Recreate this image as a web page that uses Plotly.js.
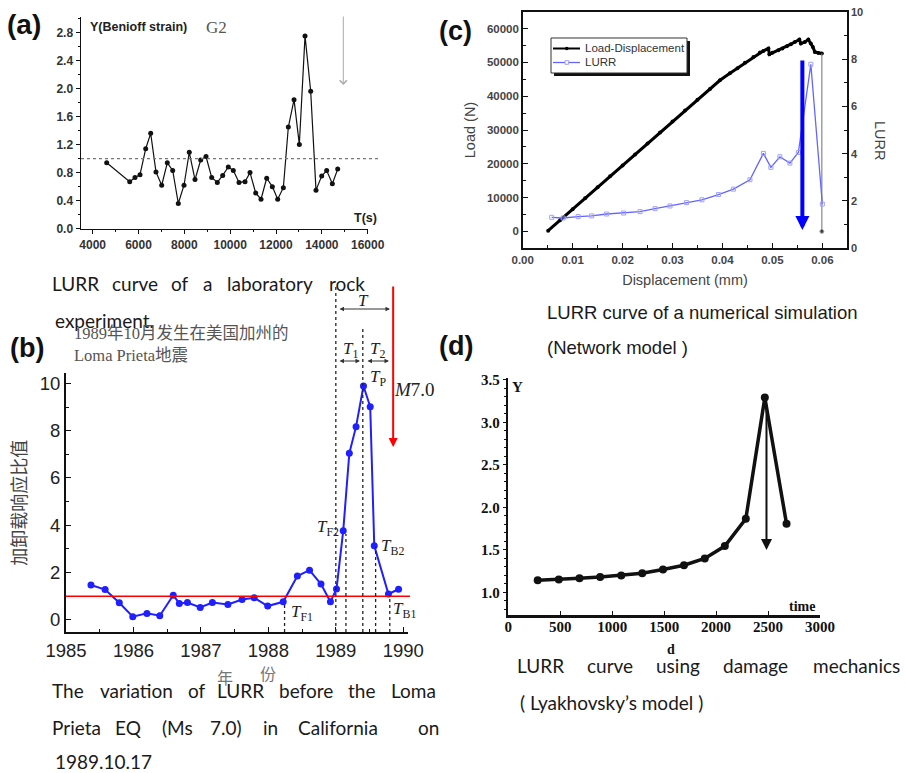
<!DOCTYPE html>
<html><head><meta charset="utf-8">
<script src="https://cdn.plot.ly/plotly-3.0.1.min.js"></script>
<style>html,body{margin:0;padding:0;background:#fff}</style>
</head><body><div id="chart" style="width:905px;height:773px"></div>
<script>
// ---------- (a) laboratory rock experiment ----------
const aTime = [4611, 5615, 5846, 6065, 6314, 6531, 6762, 7011, 7256, 7491, 7736, 7985, 8215, 8465, 8713, 8945, 9193, 9438, 9673, 9918,
  10136, 10385, 10647, 10865, 11113, 11345, 11593, 11840, 12073, 12320, 12538, 12787, 13018, 13266, 13513, 13745, 13993, 14211, 14458, 14692];
const aBenioff = [0.94, 0.67, 0.73, 0.77, 1.14, 1.36, 0.81, 0.62, 0.94, 0.83, 0.36, 0.62, 1.09, 0.70, 0.98, 1.03, 0.73, 0.66, 0.76, 0.88,
  0.83, 0.66, 0.67, 0.80, 0.51, 0.42, 0.72, 0.60, 0.42, 0.585, 1.45, 1.84, 1.20, 2.75, 1.96, 0.55, 0.75, 0.83, 0.64, 0.85];
const aRefLevel = 1.0;
const aArrowTime = 14936;

// ---------- (b) Loma Prieta ----------
const bYear = [1985.37, 1985.58, 1985.79, 1985.99, 1986.20, 1986.39, 1986.59, 1986.68, 1986.80, 1986.99, 1987.17, 1987.40, 1987.61, 1987.79,
  1987.99, 1988.22, 1988.43, 1988.61, 1988.78, 1988.92, 1989.01, 1989.11, 1989.20, 1989.30, 1989.41, 1989.51, 1989.57, 1989.78, 1989.93];
const bLurr = [1.47, 1.28, 0.72, 0.13, 0.27, 0.17, 1.04, 0.69, 0.73, 0.52, 0.73, 0.65, 0.86, 0.93,
  0.58, 0.76, 1.85, 2.10, 1.51, 0.76, 1.30, 3.77, 7.04, 8.17, 9.89, 9.01, 3.13, 1.09, 1.29];
const bRefLevel = 1.0;
const bMarkYears = [1988.24, 1989.0, 1989.15, 1989.40, 1989.59, 1989.80];
const bQuakeYear = 1989.85;

// ---------- (c) numerical simulation ----------
const cDisp = [0.0051, 0.0075, 0.010, 0.0125, 0.015, 0.0175, 0.020, 0.0225, 0.025, 0.0275, 0.030, 0.0325, 0.035, 0.0375, 0.0395,
  0.0415, 0.0430, 0.0445, 0.0462, 0.0475, 0.0482, 0.0492, 0.0494, 0.0500, 0.0512, 0.0520, 0.0529, 0.0537, 0.0545, 0.0554, 0.0557,
  0.0565, 0.0572, 0.0577, 0.0581, 0.0585, 0.0592, 0.0599, 0.0599];
const cLoad = [200, 3310, 6555, 9800, 13040, 16280, 19525, 22770, 26010, 29250, 32500, 35740, 38980, 42100, 44720,
  46800, 48300, 49900, 51620, 52900, 53400, 54100, 52420, 52820, 53600, 54100, 54780, 55400, 56050, 56750, 55580,
  56050, 56750, 55580, 54570, 53100, 52800, 52620, 0];
const cLurrDisp = [0.0058, 0.0081, 0.0111, 0.0138, 0.0168, 0.0202, 0.0235, 0.0265, 0.0295, 0.0328, 0.0359, 0.0392, 0.0422, 0.0455,
  0.0482, 0.0497, 0.0515, 0.0535, 0.0552, 0.0577, 0.0600];
const cLurr = [1.31, 1.28, 1.34, 1.37, 1.45, 1.49, 1.55, 1.675, 1.79, 1.93, 2.05, 2.27, 2.50, 2.90,
  4.01, 3.42, 3.87, 3.60, 4.05, 7.78, 1.87];
const cArrowDisp = 0.056;
const cSeriesNames = ['Load-Displacement', 'LURR'];

// ---------- (d) damage mechanics ----------
const dTime = [283, 486, 685, 884, 1087, 1289, 1489, 1691, 1891, 2084, 2286, 2469, 2678];
const dY = [1.144, 1.152, 1.167, 1.183, 1.20, 1.226, 1.27, 1.32, 1.40, 1.545, 1.865, 3.29, 1.806];
const dArrowTime = 2485;

// ---------- helpers ----------
const W = 905, H = 773;
const PX = v => v / W, PY = v => 1 - v / H;
const SANS = 'Liberation Sans, Arial, sans-serif';
const SERIF = 'Liberation Serif, Times New Roman, serif';
const CAP = 'Lato, Open Sans, sans-serif';
const CJK = 'Noto Sans CJK SC, sans-serif';
const CJKSERIF = 'Liberation Serif, Noto Sans CJK SC, serif';

function txt(text, x, y, font, xanchor, extra) {
  return Object.assign({text, x: PX(x), y: PY(y), xref: 'paper', yref: 'paper', showarrow: false,
    xanchor: xanchor || 'center', yanchor: 'middle', font}, extra || {});
}
function words(list, y, font) { return list.map(w => txt(w[0], w[1], y, font)); }

const capFont = {family: CAP, size: 19, color: '#1a1a1a'};
const capFontC = {family: SANS, size: 18.5, color: '#1a1a1a'};
const italT = {family: SERIF, size: 17, color: '#222'};
const LURR_COLOR = '#6464ff';

const annotations = [
  // panel letters
  txt('(a)', 24, 25, {family: SANS, size: 28, weight: 'bold', color: '#111'}),
  txt('(b)', 27, 348, {family: SANS, size: 27, weight: 'bold', color: '#111'}),
  txt('(c)', 456, 31, {family: SANS, size: 27, weight: 'bold', color: '#111'}),
  txt('(d)', 456, 346, {family: SANS, size: 27, weight: 'bold', color: '#111'}),
  // (a) labels
  txt('Y(Benioff strain)', 88, 27, {family: SANS, size: 12.5, weight: 'bold', color: '#222'}, 'left'),
  txt('G2', 204, 27, {family: SERIF, size: 17, color: '#555'}, 'left'),
  txt('T(s)', 365, 218, {family: SANS, size: 12.5, weight: 'bold', color: '#222'}),
  // caption (a)
  ...words([['LURR', 75], ['curve', 135], ['of', 180], ['a', 207.5], ['laboratory', 270], ['rock', 346.5]], 283, capFont),
  txt('experiment.', 53, 320, capFont, 'left'),
  // (b) labels
  txt('1989年10月发生在美国加州的', 72, 333, {family: CJKSERIF, size: 16.5, color: '#555'}, 'left'),
  txt('Loma Prieta地震', 72, 355, {family: CJKSERIF, size: 16.5, color: '#555'}, 'left'),
  txt('<i>T</i>', 363, 300, italT),
  txt('<i>T</i><sub>1</sub>', 350, 350, italT),
  txt('<i>T</i><sub>2</sub>', 377, 350, italT),
  txt('<i>T</i><sub>P</sub>', 368, 378, italT, 'left'),
  txt('<i>T</i><sub>F2</sub>', 341, 528, italT, 'right'),
  txt('<i>T</i><sub>B2</sub>', 379, 547, italT, 'left'),
  txt('<i>T</i><sub>F1</sub>', 289, 613, italT, 'left'),
  txt('<i>T</i><sub>B1</sub>', 391, 610, italT, 'left'),
  txt('<i>M</i>7.0', 414, 390, {family: SERIF, size: 19, color: '#222'}),
  txt('年', 225, 677, {family: CJK, size: 16, color: '#777'}),
  txt('份', 268, 673, {family: CJK, size: 16, color: '#777'}),
  // caption (b)
  ...words([['The', 68], ['variation', 136.5], ['of', 196.5], ['LURR', 240], ['before', 305.5], ['the', 361], ['Loma', 413.5]], 690, capFont),
  ...words([['Prieta', 76.5], ['EQ', 127.5], ['(Ms', 177.5], ['7.0)', 225.5], ['in', 270], ['California', 337.5], ['on', 428.5]], 727, capFont),
  txt('1989.10.17', 53, 761, capFont, 'left'),
  // (c)
  txt('LURR', 880, 140, {family: SANS, size: 14.5, color: '#444'}, 'center', {textangle: 90}),
  txt(cSeriesNames[0], 583, 48.5, {family: SANS, size: 11.5, color: '#333'}, 'left'),
  txt(cSeriesNames[1], 583, 62.5, {family: SANS, size: 11.5, color: '#333'}, 'left'),
  txt('LURR curve of a numerical simulation', 545, 312, capFontC, 'left'),
  txt('(Network model )', 545, 347, capFontC, 'left'),
  // (d)
  txt('Y', 517, 387, {family: SERIF, size: 15, weight: 'bold', color: '#111'}),
  txt('time', 802, 606, {family: SERIF, size: 14, weight: 'bold', color: '#111'}),
  txt('d', 671, 649, {family: SERIF, size: 14, weight: 'bold', color: '#111'}),
  ...words([['LURR', 540], ['curve', 609.5], ['using', 677.5], ['damage', 755.5], ['mechanics', 856.5]], 665, capFont),
  txt('( Lyakhovsky’s model )', 518, 702, capFont, 'left'),
  // arrows
  {x: aArrowTime, xref: 'x', y: PY(85), yref: 'paper', ax: 0, ay: -70, showarrow: true, text: '',
    arrowcolor: '#aaa', arrowwidth: 1, arrowhead: 4, arrowsize: 1.4, standoff: 0},
  {x: bQuakeYear, xref: 'x2', y: PY(447), yref: 'paper', ax: 0, ay: -162, showarrow: true, text: '',
    arrowcolor: '#ff0000', arrowwidth: 2, arrowhead: 2, arrowsize: 0.9, standoff: 0},
  {x: PX(390), xref: 'paper', y: PY(309), yref: 'paper', ax: -52, ay: 0, showarrow: true, text: '',
    arrowcolor: '#333', arrowwidth: 1, arrowhead: 2, arrowsize: 0.9, arrowside: 'end+start', standoff: 0, startstandoff: 0},
  {x: PX(360), xref: 'paper', y: PY(361), yref: 'paper', ax: -22, ay: 0, showarrow: true, text: '',
    arrowcolor: '#333', arrowwidth: 1, arrowhead: 2, arrowsize: 0.9, arrowside: 'end+start', standoff: 0, startstandoff: 0},
  {x: PX(389), xref: 'paper', y: PY(361), yref: 'paper', ax: -23, ay: 0, showarrow: true, text: '',
    arrowcolor: '#333', arrowwidth: 1, arrowhead: 2, arrowsize: 0.9, arrowside: 'end+start', standoff: 0, startstandoff: 0},
  {x: cArrowDisp, xref: 'x3', y: PY(230), yref: 'paper', ax: 0, ay: -171, showarrow: true, text: '',
    arrowcolor: '#0000ff', arrowwidth: 4, arrowhead: 2, arrowsize: 0.7, standoff: 0},
  {x: dArrowTime, xref: 'x4', y: PY(550), yref: 'paper', ax: 0, ay: -145, showarrow: true, text: '',
    arrowcolor: '#111', arrowwidth: 2, arrowhead: 2, arrowsize: 1.1, standoff: 0}
];

// dotted marker lines in (b)
const bTopsPx = [603, 285, 534, 328, 547, 595];
const P = (x0, y0, x1, y1) => ({xref: 'paper', yref: 'paper', x0: PX(x0), x1: PX(x1), y0: PY(y0), y1: PY(y1)});
const shapes = [
  {type: 'line', xref: 'paper', yref: 'y', x0: PX(81), x1: PX(381), y0: aRefLevel, y1: aRefLevel,
    line: {color: '#777', width: 1.2, dash: 'dot'}},
  {type: 'line', xref: 'paper', yref: 'y2', x0: PX(66), x1: PX(410), y0: bRefLevel, y1: bRefLevel,
    line: {color: '#ff0000', width: 1.5}},
  ...bMarkYears.map((yr, i) => ({type: 'line', xref: 'x2', yref: 'paper', x0: yr, x1: yr,
    y0: PY(632), y1: PY(bTopsPx[i]), line: {color: '#222', width: 1.3, dash: 'dot'}})),
  // legend box for (c): shadow, frame, keys
  Object.assign({type: 'rect', fillcolor: '#111', line: {width: 0}, layer: 'above'}, P(554, 76, 690, 41)),
  Object.assign({type: 'rect', fillcolor: '#fff', line: {width: 1, color: '#333'}, layer: 'above'}, P(551, 73, 687, 38)),
  Object.assign({type: 'line', line: {color: '#000', width: 2}, layer: 'above'}, P(553, 48.5, 580, 48.5)),
  Object.assign({type: 'circle', fillcolor: '#000', line: {width: 0}, layer: 'above'}, P(565, 50.3, 568.6, 46.7)),
  Object.assign({type: 'line', line: {color: LURR_COLOR, width: 1.3}, layer: 'above'}, P(553, 62.5, 580, 62.5)),
  Object.assign({type: 'rect', fillcolor: '#fff', line: {width: 1, color: '#a0a0ff'}, layer: 'above'}, P(565, 64.3, 568.6, 60.7))
];

const n = cDisp.length;
const traces = [
  {x: aTime, y: aBenioff, xaxis: 'x', yaxis: 'y', mode: 'lines+markers', showlegend: false,
    line: {color: '#111', width: 1.2}, marker: {size: 5, color: '#111'}},
  {x: bYear, y: bLurr, xaxis: 'x2', yaxis: 'y2', mode: 'lines+markers', showlegend: false,
    line: {color: '#1f1fff', width: 2}, marker: {size: 7, color: '#1f1fff'}},
  {x: cDisp.slice(0, n - 1), y: cLoad.slice(0, n - 1), xaxis: 'x3', yaxis: 'y3', mode: 'lines+markers', showlegend: false,
    name: cSeriesNames[0], line: {color: '#000', width: 3}, marker: {size: 4, color: '#000'}},
  {x: cDisp.slice(n - 2), y: cLoad.slice(n - 2), xaxis: 'x3', yaxis: 'y3', mode: 'lines+markers', showlegend: false,
    line: {color: '#888', width: 1.2}, marker: {size: [0, 4], color: '#000'}},
  {x: cLurrDisp, y: cLurr, xaxis: 'x3', yaxis: 'y4', mode: 'lines+markers', name: cSeriesNames[1], showlegend: false,
    line: {color: LURR_COLOR, width: 1.3}, marker: {symbol: 'square-open', size: 4, color: '#a0a0ff'}},
  {x: dTime, y: dY, xaxis: 'x4', yaxis: 'y5', mode: 'lines+markers', showlegend: false,
    line: {color: '#111', width: 3.5}, marker: {size: 8, color: '#111'}}
];

const base = {showgrid: false, zeroline: false, showline: true, linecolor: '#111', tickcolor: '#111', fixedrange: true};
const fa = {family: SANS, size: 12, weight: 'bold', color: '#333'};
const fb = {family: SANS, size: 18.5, color: '#222'};
const fc = {family: SANS, size: 11.5, weight: 'bold', color: '#444'};
const fd = {family: SERIF, size: 15, weight: 'bold', color: '#111'};

const layout = {
  width: W, height: H, autosize: false, margin: {l: 0, r: 0, t: 0, b: 0}, showlegend: false,
  paper_bgcolor: '#fff', plot_bgcolor: 'rgba(0,0,0,0)',
  xaxis: Object.assign({}, base, {domain: [PX(81), PX(368)], anchor: 'y', range: [3490, 16014], tick0: 0, dtick: 2000, tickformat: 'd',
    ticks: 'outside', ticklen: 4, linewidth: 1.5, tickfont: fa, minor: {dtick: 1000, ticks: 'outside', ticklen: 2, tickcolor: '#111'}}),
  yaxis: Object.assign({}, base, {domain: [PY(228.7), PY(17.3)], anchor: 'x', range: [0, 3.015], tick0: 0, dtick: 0.4, tickformat: '.1f',
    ticks: 'outside', ticklen: 4, linewidth: 1.5, tickfont: fa, minor: {dtick: 0.2, ticks: 'outside', ticklen: 2, tickcolor: '#111'}}),
  xaxis2: Object.assign({}, base, {domain: [PX(66), PX(408)], anchor: 'y2', range: [1985, 1990.07], tick0: 1985, dtick: 1,
    ticks: 'inside', ticklen: 5, linewidth: 2, tickfont: fb, minor: {dtick: 0.5, ticks: 'inside', ticklen: 3, tickcolor: '#111'}}),
  yaxis2: Object.assign({}, base, {domain: [PY(632.3), PY(373)], anchor: 'x2', range: [-0.53, 10.44], tick0: 0, dtick: 2,
    ticks: 'inside', ticklen: 5, linewidth: 2, tickfont: fb, minor: {dtick: 1, ticks: 'inside', ticklen: 3, tickcolor: '#111'},
    title: {text: '加卸载响应比值', font: {family: CJK, size: 18, color: '#444'}, standoff: 8}}),
  xaxis3: Object.assign({}, base, {domain: [PX(522.7), PX(847.3)], anchor: 'y3', range: [0, 0.065], tick0: 0, dtick: 0.01, tickformat: '.2f',
    ticks: 'inside', ticklen: 5, linewidth: 1.5, mirror: true, tickfont: fc, minor: {dtick: 0.005, ticks: 'inside', ticklen: 3, tickcolor: '#111'},
    title: {text: 'Displacement (mm)', font: {family: SANS, size: 14.5, color: '#444'}, standoff: 10}}),
  yaxis3: Object.assign({}, base, {domain: [PY(248.3), PY(11.7)], anchor: 'x3', range: [-5000, 65000], tick0: 0, dtick: 10000, tickformat: 'd',
    ticks: 'inside', ticklen: 5, linewidth: 1.5, tickfont: fc, minor: {dtick: 5000, ticks: 'inside', ticklen: 3, tickcolor: '#111'},
    title: {text: 'Load (N)', font: {family: SANS, size: 14.5, color: '#444'}, standoff: 8}}),
  yaxis4: Object.assign({}, base, {overlaying: 'y3', side: 'right', anchor: 'x3', range: [0, 10], tick0: 0, dtick: 2,
    ticks: 'inside', ticklen: 5, linewidth: 1.5, tickfont: {family: SANS, size: 11, weight: 'bold', color: '#444'},
    minor: {dtick: 1, ticks: 'inside', ticklen: 3, tickcolor: '#111'}}),
  xaxis4: Object.assign({}, base, {domain: [PX(508.3), PX(820)], anchor: 'y5', range: [0, 3000], tick0: 0, dtick: 500,
    ticks: 'inside', ticklen: 4, linewidth: 2.5, tickfont: fd, ticklabelstandoff: -4}),
  yaxis5: Object.assign({}, base, {domain: [PY(615), PY(378)], anchor: 'x4', range: [0.735, 3.52], tick0: 0, dtick: 0.5, tickformat: '.1f',
    ticks: 'outside', ticklen: 3, linewidth: 2.5, tickfont: fd, minor: {dtick: 0.1, ticks: 'outside', ticklen: 2, tickcolor: '#111'}}),
  annotations, shapes
};

Plotly.newPlot('chart', traces, layout, {displayModeBar: false, staticPlot: true});
</script>
</body></html>
